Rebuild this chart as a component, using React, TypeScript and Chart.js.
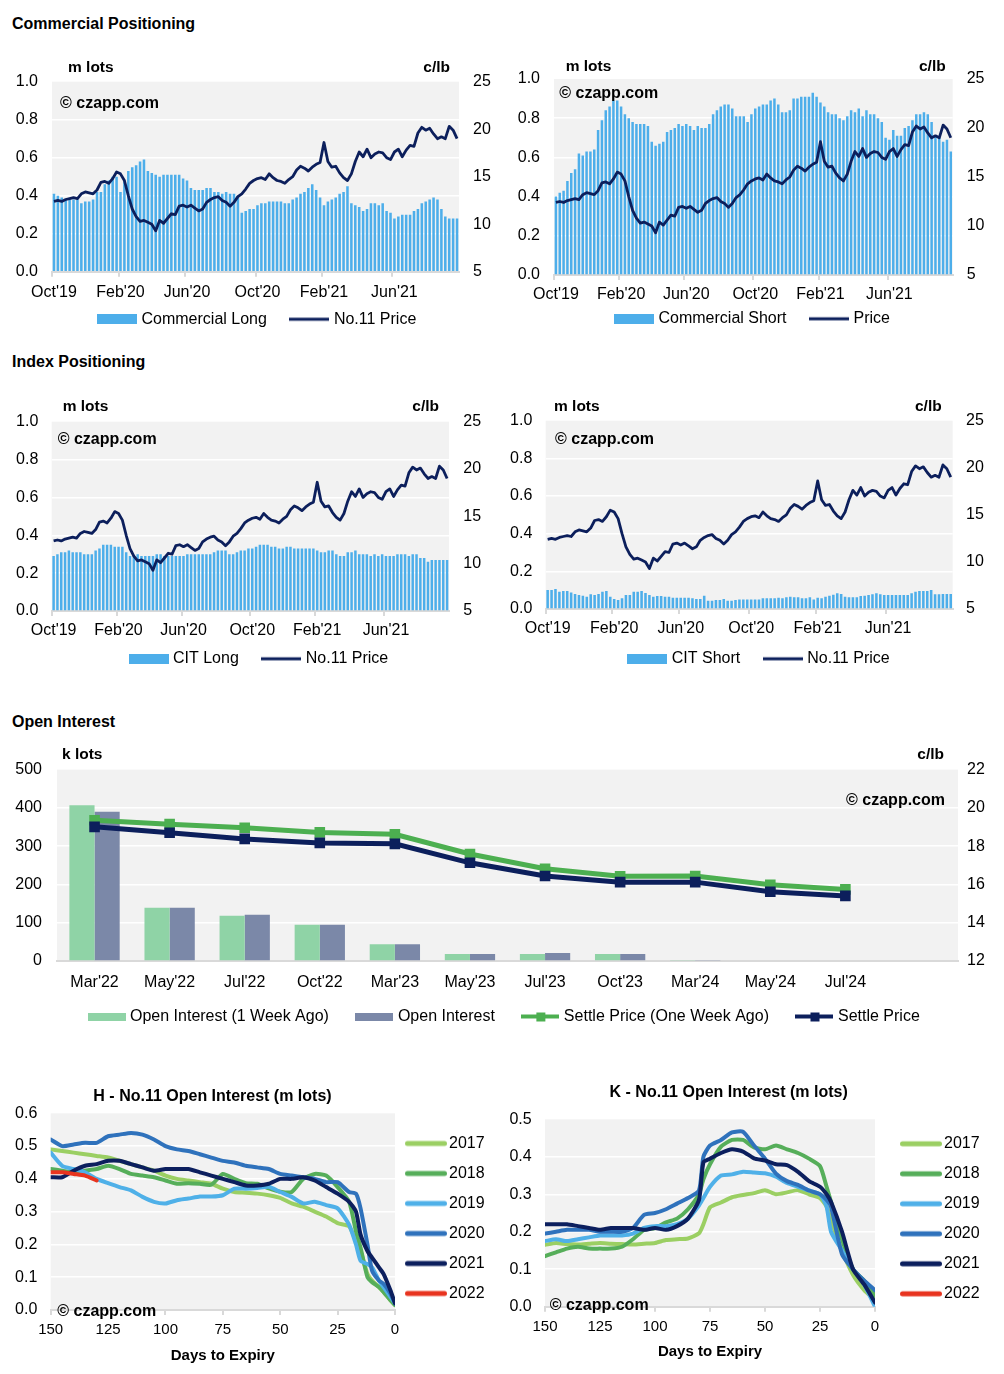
import React, { useEffect, useRef } from 'react';
import { Chart, registerables } from 'chart.js';

Chart.register(...registerables);

const FONT = '"Liberation Sans", Arial, Helvetica, sans-serif';
Chart.defaults.font.family = FONT;
Chart.defaults.color = '#000';

// ---------------- DATA ----------------
const WEEK_START = '2019-10-01';
const WEEK_COUNT = 104;
const TICK_MONTHS = [9, 1, 5]; // Oct, Feb, Jun
const MONTH_NAMES = ['Jan', 'Feb', 'Mar', 'Apr', 'May', 'Jun', 'Jul', 'Aug', 'Sep', 'Oct', 'Nov', 'Dec'];

// weekly No.11 price, c/lb
const NO11_PRICE = [
  12.4, 12.5, 12.4, 12.6, 12.7, 12.8, 12.7, 13.2, 13.4, 13.3,
  13.2, 13.6, 14.4, 14.5, 14.3, 14.8, 15.5, 15.3, 14.6, 13.0,
  11.6, 10.8, 10.3, 10.4, 10.2, 10.0, 9.3, 10.4, 10.1, 10.6,
  11.1, 11.0, 11.9, 12.0, 11.8, 12.0, 11.7, 11.4, 11.6, 12.3,
  12.6, 12.8, 12.9, 12.5, 12.3, 11.9, 12.3, 12.9, 13.2, 13.7,
  14.3, 14.6, 14.8, 14.9, 14.7, 15.3, 14.9, 14.6, 14.5, 14.3,
  14.7, 15.0, 15.7, 16.1, 15.9, 15.6, 16.0, 16.3, 16.5, 18.6,
  16.6, 16.0, 16.1, 15.4, 14.9, 14.6, 15.3, 16.6, 17.6, 17.1,
  17.9, 17.0, 17.4, 17.6, 17.5, 17.0, 16.8, 17.6, 17.9, 17.1,
  17.8, 18.3, 18.2, 19.6, 20.2, 19.9, 20.1, 19.5, 19.0, 19.2,
  19.0, 20.3, 19.9, 19.0,
];

// m lots
const COMMERCIAL_LONG = [
  0.41, 0.40, 0.39, 0.38, 0.38, 0.38, 0.38, 0.36, 0.37, 0.37,
  0.38, 0.42, 0.42, 0.46, 0.48, 0.50, 0.50, 0.42, 0.48, 0.53,
  0.55, 0.56, 0.58, 0.59, 0.53, 0.52, 0.51, 0.50, 0.51, 0.51,
  0.51, 0.51, 0.51, 0.49, 0.48, 0.44, 0.43, 0.43, 0.43, 0.44,
  0.44, 0.42, 0.42, 0.41, 0.42, 0.41, 0.41, 0.40, 0.31, 0.32,
  0.33, 0.33, 0.35, 0.36, 0.36, 0.37, 0.37, 0.37, 0.37, 0.36,
  0.36, 0.38, 0.39, 0.41, 0.42, 0.44, 0.46, 0.43, 0.39, 0.35,
  0.37, 0.38, 0.39, 0.41, 0.42, 0.45, 0.36, 0.35, 0.34, 0.32,
  0.33, 0.36, 0.36, 0.35, 0.36, 0.32, 0.31, 0.28, 0.29, 0.30,
  0.30, 0.30, 0.32, 0.33, 0.36, 0.37, 0.38, 0.39, 0.38, 0.33,
  0.29, 0.28, 0.28, 0.28,
];

const COMMERCIAL_SHORT = [
  0.40, 0.42, 0.43, 0.48, 0.52, 0.54, 0.62, 0.61, 0.63, 0.63,
  0.64, 0.74, 0.79, 0.84, 0.86, 0.89, 0.89, 0.86, 0.82, 0.80,
  0.78, 0.77, 0.77, 0.77, 0.76, 0.68, 0.66, 0.67, 0.68, 0.73,
  0.74, 0.75, 0.77, 0.76, 0.77, 0.76, 0.74, 0.76, 0.75, 0.75,
  0.77, 0.82, 0.84, 0.86, 0.87, 0.87, 0.85, 0.81, 0.81, 0.81,
  0.78, 0.82, 0.85, 0.86, 0.87, 0.87, 0.89, 0.90, 0.87, 0.83,
  0.83, 0.84, 0.90, 0.90, 0.91, 0.91, 0.91, 0.93, 0.91, 0.88,
  0.86, 0.83, 0.82, 0.82, 0.80, 0.79, 0.81, 0.84, 0.83, 0.85,
  0.81, 0.84, 0.82, 0.82, 0.80, 0.78, 0.70, 0.69, 0.74, 0.71,
  0.71, 0.75, 0.76, 0.79, 0.82, 0.82, 0.83, 0.82, 0.78, 0.71,
  0.70, 0.68, 0.69, 0.63,
];

const CIT_LONG = [
  0.29, 0.30, 0.31, 0.31, 0.32, 0.31, 0.31, 0.31, 0.30, 0.30,
  0.30, 0.32, 0.33, 0.35, 0.35, 0.35, 0.34, 0.34, 0.34, 0.31,
  0.29, 0.29, 0.30, 0.29, 0.29, 0.29, 0.29, 0.30, 0.30, 0.29,
  0.29, 0.29, 0.29, 0.29, 0.29, 0.30, 0.30, 0.30, 0.30, 0.30,
  0.30, 0.30, 0.31, 0.32, 0.32, 0.32, 0.30, 0.30, 0.31, 0.32,
  0.32, 0.33, 0.33, 0.34, 0.35, 0.35, 0.35, 0.34, 0.34, 0.33,
  0.33, 0.34, 0.34, 0.33, 0.33, 0.33, 0.33, 0.33, 0.33, 0.32,
  0.31, 0.31, 0.32, 0.32, 0.30, 0.29, 0.29, 0.31, 0.31, 0.32,
  0.30, 0.30, 0.30, 0.29, 0.30, 0.29, 0.30, 0.29, 0.29, 0.29,
  0.30, 0.30, 0.30, 0.29, 0.30, 0.30, 0.28, 0.28, 0.26, 0.27,
  0.27, 0.27, 0.27, 0.27,
];

const CIT_SHORT = [
  0.101, 0.101, 0.106, 0.092, 0.096, 0.096, 0.088, 0.080, 0.074, 0.071,
  0.065, 0.078, 0.074, 0.080, 0.092, 0.096, 0.065, 0.053, 0.048, 0.057,
  0.074, 0.074, 0.092, 0.092, 0.096, 0.085, 0.074, 0.065, 0.069, 0.069,
  0.065, 0.065, 0.060, 0.060, 0.060, 0.060, 0.060, 0.057, 0.053, 0.053,
  0.071, 0.044, 0.044, 0.048, 0.048, 0.053, 0.044, 0.044, 0.048, 0.051,
  0.051, 0.051, 0.051, 0.051, 0.051, 0.057, 0.057, 0.057, 0.057, 0.060,
  0.057, 0.062, 0.065, 0.062, 0.062, 0.057, 0.057, 0.062, 0.051, 0.060,
  0.057, 0.065, 0.071, 0.076, 0.083, 0.080, 0.065, 0.063, 0.062, 0.062,
  0.069, 0.071, 0.074, 0.078, 0.083, 0.078, 0.074, 0.074, 0.074, 0.074,
  0.074, 0.074, 0.074, 0.083, 0.092, 0.096, 0.096, 0.096, 0.101, 0.078,
  0.078, 0.080, 0.080, 0.080,
];

// Open interest by contract
const OI_CONTRACTS = ["Mar'22", "May'22", "Jul'22", "Oct'22", "Mar'23", "May'23", "Jul'23", "Oct'23", "Mar'24", "May'24", "Jul'24", ''];
const OI_WEEK_AGO = [407, 139, 118, 95, 44, 18, 18, 18, 2.5, 0, 0, null];
const OI_CURRENT = [390, 139, 121, 95, 44, 18, 21, 18, 2.5, 0, 0, null];
const SETTLE_WEEK_AGO = [19.35, 19.15, 18.96, 18.72, 18.62, 17.59, 16.82, 16.43, 16.44, 15.98, 15.74, null];
const SETTLE_CURRENT = [19.01, 18.70, 18.38, 18.17, 18.12, 17.13, 16.44, 16.12, 16.12, 15.62, 15.40, null];

// Open interest vs days to expiry
const EXPIRY_YEARS = ['2017', '2018', '2019', '2020', '2021', '2022'];

const H_DAYS = [150, 145, 140, 135, 130, 125, 120, 115, 110, 105, 100, 95, 90, 85, 80, 75, 70, 65, 60, 55, 50, 45, 40, 35, 30, 25, 20, 17, 15, 12, 10, 7, 5, 2, 0];
const H_2017 = [0.49, 0.485, 0.48, 0.475, 0.47, 0.465, 0.455, 0.445, 0.435, 0.425, 0.41, 0.40, 0.395, 0.39, 0.385, 0.37, 0.36, 0.358, 0.355, 0.35, 0.342, 0.325, 0.315, 0.30, 0.285, 0.265, 0.255, 0.21, 0.18, 0.11, 0.09, 0.07, 0.055, 0.03, 0.015];
const H_2018 = [0.43, 0.425, 0.42, 0.425, 0.43, 0.44, 0.43, 0.415, 0.41, 0.405, 0.395, 0.385, 0.387, 0.385, 0.382, 0.415, 0.40, 0.387, 0.385, 0.371, 0.361, 0.36, 0.40, 0.415, 0.41, 0.375, 0.33, 0.24, 0.19, 0.10, 0.085, 0.07, 0.055, 0.03, 0.015];
const H_2019 = [0.48, 0.44, 0.43, 0.42, 0.40, 0.387, 0.375, 0.365, 0.345, 0.33, 0.325, 0.335, 0.34, 0.346, 0.346, 0.35, 0.37, 0.37, 0.372, 0.376, 0.36, 0.345, 0.325, 0.33, 0.32, 0.31, 0.26, 0.20, 0.15, 0.14, 0.13, 0.09, 0.07, 0.04, 0.02];
const H_2020 = [0.52, 0.50, 0.505, 0.51, 0.51, 0.53, 0.535, 0.54, 0.535, 0.52, 0.50, 0.49, 0.485, 0.475, 0.465, 0.455, 0.45, 0.44, 0.435, 0.43, 0.415, 0.41, 0.405, 0.40, 0.39, 0.39, 0.36, 0.355, 0.31, 0.20, 0.12, 0.09, 0.08, 0.05, 0.02];
const H_2021 = [0.405, 0.405, 0.425, 0.44, 0.445, 0.455, 0.455, 0.445, 0.435, 0.425, 0.43, 0.43, 0.43, 0.42, 0.41, 0.40, 0.39, 0.38, 0.38, 0.385, 0.40, 0.40, 0.405, 0.395, 0.375, 0.355, 0.33, 0.30, 0.23, 0.18, 0.16, 0.13, 0.11, 0.06, 0.02];
const H_2022 = [0.42, 0.42, 0.415, 0.41, 0.395];

const K_DAYS = [150, 145, 140, 135, 130, 125, 120, 115, 110, 105, 100, 95, 90, 85, 80, 78, 75, 70, 65, 60, 55, 50, 45, 40, 35, 30, 25, 22, 20, 15, 10, 5, 0];
const K_2017 = [0.165, 0.17, 0.167, 0.166, 0.168, 0.17, 0.168, 0.167, 0.166, 0.168, 0.17, 0.178, 0.18, 0.182, 0.196, 0.22, 0.265, 0.278, 0.292, 0.298, 0.303, 0.311, 0.30, 0.305, 0.311, 0.30, 0.29, 0.267, 0.23, 0.15, 0.085, 0.045, 0.018];
const K_2018 = [0.135, 0.145, 0.155, 0.16, 0.155, 0.155, 0.155, 0.16, 0.18, 0.205, 0.21, 0.225, 0.235, 0.26, 0.30, 0.34, 0.38, 0.427, 0.445, 0.445, 0.425, 0.42, 0.43, 0.42, 0.41, 0.395, 0.375, 0.32, 0.28, 0.18, 0.10, 0.07, 0.03];
const K_2019 = [0.175, 0.18, 0.175, 0.18, 0.185, 0.19, 0.19, 0.19, 0.195, 0.21, 0.215, 0.215, 0.22, 0.235, 0.27, 0.29, 0.32, 0.35, 0.353, 0.36, 0.358, 0.356, 0.347, 0.33, 0.32, 0.31, 0.30, 0.267, 0.20, 0.15, 0.10, 0.06, 0.0];
const K_2020 = [0.195, 0.20, 0.205, 0.205, 0.205, 0.20, 0.20, 0.20, 0.21, 0.245, 0.25, 0.26, 0.275, 0.29, 0.31, 0.40, 0.43, 0.445, 0.465, 0.467, 0.43, 0.395, 0.355, 0.335, 0.325, 0.31, 0.30, 0.285, 0.267, 0.14, 0.10, 0.07, 0.044];
const K_2021 = [0.22, 0.22, 0.22, 0.215, 0.21, 0.205, 0.21, 0.21, 0.21, 0.205, 0.21, 0.205, 0.215, 0.235, 0.285, 0.385, 0.395, 0.41, 0.42, 0.414, 0.396, 0.39, 0.38, 0.378, 0.36, 0.335, 0.32, 0.30, 0.28, 0.20, 0.10, 0.06, 0.011];
const K_2022: number[] = [];

// ---------------- STYLE ----------------
const BAR_BLUE = '#4daeea';
const NAVY = '#0c1f5c';
const GREEN = '#4caf50';
const OI_GREEN = '#8fd3a6';
const OI_SLATE = '#7b88a8';
const AXIS_GRAY = '#d9d9d9';
const PLOT_BG = '#f2f2f2';
const YEAR_COLORS = ['#9bcf63', '#56ae5a', '#4fb0e8', '#2f72bc', '#0c1f5e', '#e8341f'];
const CLEAR = 'rgba(0,0,0,0)';
const TEXT_DY = 1.5; // canvas 'middle' baseline sits slightly above the visual glyph centre

// ---------------- helpers ----------------
const WEEK_DATES = (() => {
  const s = Date.parse(WEEK_START + 'T00:00:00Z');
  return Array.from({ length: WEEK_COUNT }, (_, i) => new Date(s + i * 7 * 86400000));
})();
const WEEK_LABELS = WEEK_DATES.map((d) => d.toISOString().slice(0, 10));

function weekTick(i: number): string {
  const d = WEEK_DATES[i];
  if (!d) return '';
  const e = new Date(d.getTime() + 6 * 86400000);
  let m = -1;
  let y = 0;
  if (d.getUTCDate() === 1) {
    m = d.getUTCMonth();
    y = d.getUTCFullYear();
  } else if (e.getUTCMonth() !== d.getUTCMonth()) {
    m = e.getUTCMonth();
    y = e.getUTCFullYear();
  }
  if (TICK_MONTHS.indexOf(m) < 0) return '';
  return MONTH_NAMES[m] + "'" + String(y).slice(2);
}

function rectIcon(color: string, w: number, h: number) {
  const c = document.createElement('canvas');
  c.width = w;
  c.height = h;
  const x = c.getContext('2d')!;
  x.fillStyle = color;
  x.fillRect(0, 0, w, h);
  return c;
}

function lineIcon(color: string, w: number, lw: number, round = false, marker = 0) {
  let h = Math.ceil(Math.max(lw, marker)) + 2;
  if (h % 2) h += 1;
  const c = document.createElement('canvas');
  c.width = w;
  c.height = h;
  const x = c.getContext('2d')!;
  const cy = h / 2;
  x.strokeStyle = color;
  x.lineWidth = lw;
  x.lineCap = round ? 'round' : 'butt';
  const inset = round ? lw / 2 : 0;
  x.beginPath();
  x.moveTo(inset, cy);
  x.lineTo(w - inset, cy);
  x.stroke();
  if (marker) {
    x.fillStyle = color;
    x.fillRect(Math.round(w / 2 - marker / 2), Math.round(cy - marker / 2), marker, marker);
  }
  return c;
}

const plotBgPlugin = {
  id: 'plotBg',
  beforeDraw(chart: any) {
    const a = chart.chartArea;
    if (!a) return;
    const ctx = chart.ctx;
    ctx.save();
    ctx.fillStyle = PLOT_BG;
    ctx.fillRect(a.left, a.top, a.right - a.left, a.bottom - a.top);
    ctx.restore();
  },
};

// moves the laid-out legend so that its first item starts at (x, centre y)
function legendPlacer(firstX: number, firstCY: number) {
  return {
    id: 'legendPlacer',
    afterLayout(chart: any) {
      const lg = chart.legend;
      if (!lg || !lg.options) return;
      const pad = lg.options.labels.padding;
      const fs = lg.options.labels.font.size;
      const horizontal = lg.isHorizontal();
      const curX = horizontal
        ? (lg.left + pad + lg.right - (lg.lineWidths ? lg.lineWidths[0] : 0)) / 2
        : lg.left + pad;
      const curY = lg.top + pad + fs / 2;
      const dx = firstX - curX;
      const dy = firstCY + TEXT_DY - curY;
      lg.left += dx;
      lg.right += dx;
      lg.top += dy;
      lg.bottom += dy;
      // enlarge the (clipping) box so every item stays visible
      if (horizontal) lg.bottom = Math.max(lg.bottom, lg.top + 2 * pad + fs + 10);
      else lg.right = Math.max(lg.right, lg.left + 160);
    },
  };
}

function legendLabels(icons: any[], fs: number, boxW: number, pad: number) {
  return {
    usePointStyle: true,
    pointStyleWidth: boxW,
    padding: pad,
    color: '#000',
    font: { family: FONT, size: fs },
    generateLabels: (chart: any) =>
      (Chart.defaults.plugins.legend.labels.generateLabels as any)(chart).map((it: any) => ({
        ...it,
        pointStyle: icons[it.datasetIndex],
        rotation: 0,
      })),
    sort: (a: any, b: any) => a.datasetIndex - b.datasetIndex,
  };
}

const interiorWhite = (lo: number, hi: number) => (c: any) =>
  c.tick && c.tick.value > lo + 1e-9 && c.tick.value < hi - 1e-9 ? '#ffffff' : CLEAR;

// ---------------- layouts ----------------
const GEO_COM_LONG = { left: 0, top: 55, W: 500, H: 285, plotL: 52, plotR: 459, plotT: 26.7, plotB: 216.7, yPad: 14, y2Pad: 14, xGap: 19, legendX: 100.5, legendY: 262.7 };
const GEO_COM_SHORT = { left: 500, top: 55, W: 504, H: 285, plotL: 54, plotR: 452.7, plotT: 24, plotB: 220, yPad: 14, y2Pad: 14, xGap: 18.3, legendX: 117.5, legendY: 262.3 };
const GEO_CIT_LONG = { left: 0, top: 395, W: 500, H: 285, plotL: 51.7, plotR: 449, plotT: 26.7, plotB: 216, yPad: 13.4, y2Pad: 14.3, xGap: 18, legendX: 132, legendY: 262.3 };
const GEO_CIT_SHORT = { left: 500, top: 395, W: 504, H: 285, plotL: 45.7, plotR: 452.7, plotT: 25.7, plotB: 214, yPad: 13.4, y2Pad: 13.3, xGap: 18.3, legendX: 130.8, legendY: 262.3 };
const GEO_OI = { left: 0, top: 745, W: 1004, H: 290, plotL: 57, plotR: 958, plotT: 21, plotB: 216, yPad: 15, y2Pad: 9, xGap: 20, legendX: 91, legendY: 270 };
const GEO_H = { left: 0, top: 1080, W: 500, H: 294, plotL: 50.7, plotR: 395, plotT: 33.3, plotB: 230, yPad: 13.4, xGap: 18.3, titleY: 275, legendX: 411, legendY: 62 };
const GEO_K = { left: 500, top: 1080, W: 504, H: 294, plotL: 45, plotR: 375, plotT: 39.3, plotB: 226.7, yPad: 13.3, xGap: 18.3, titleY: 270.7, legendX: 406, legendY: 62.3 };

const X_AXIS_H = 34;
const BOTTOM_LEGEND_H = 20;

// ---------------- configs ----------------
function weeklyConfig(g: any, barLabel: string, bars: number[], lineLabel: string) {
  const fs = 16;
  const boxW = 33;
  const pad = 26;
  const padB = g.H - g.plotB - X_AXIS_H - BOTTOM_LEGEND_H;
  const tickFont = { family: FONT, size: 16 };
  const icons = [rectIcon(BAR_BLUE, 40, 10), lineIcon(NAVY, 40, 3)];
  return {
    type: 'bar',
    data: {
      labels: WEEK_LABELS,
      datasets: [
        { type: 'bar', label: barLabel, data: bars, backgroundColor: BAR_BLUE, yAxisID: 'y', barPercentage: 0.65, categoryPercentage: 1, order: 2 },
        { type: 'line', label: lineLabel, data: NO11_PRICE, borderColor: NAVY, backgroundColor: NAVY, borderWidth: 2.8, pointRadius: 0, yAxisID: 'y2', order: 1, tension: 0, borderJoinStyle: 'round' },
      ],
    },
    options: {
      responsive: false,
      animation: false,
      devicePixelRatio: 1,
      events: [],
      layout: { padding: { left: 0, right: 0, top: g.plotT, bottom: padB } },
      plugins: {
        legend: { position: 'bottom', align: 'center', maxHeight: BOTTOM_LEGEND_H, labels: legendLabels(icons, fs, boxW, pad) },
        tooltip: { enabled: false },
      },
      scales: {
        x: {
          type: 'category',
          offset: true,
          grid: { offset: true, display: true, drawOnChartArea: false, drawTicks: true, tickLength: 5, lineWidth: 2, color: (c: any) => (c.tick && c.tick.label ? AXIS_GRAY : CLEAR) },
          border: { display: true, color: AXIS_GRAY, width: 2 },
          ticks: { autoSkip: false, maxRotation: 0, minRotation: 0, padding: g.xGap + TEXT_DY - 5 - fs * 0.6, font: tickFont, color: '#000', callback: (_v: any, i: number) => weekTick(i) },
          afterFit: (s: any) => { s.height = X_AXIS_H; },
        },
        y: {
          position: 'left',
          min: 0,
          max: 1,
          ticks: { stepSize: 0.2, padding: g.yPad, font: tickFont, color: '#000', callback: (v: any) => Number(v).toFixed(1) },
          grid: { drawTicks: false, lineWidth: 1.5, color: interiorWhite(0, 1) },
          border: { display: false },
          afterFit: (s: any) => { s.width = g.plotL; },
        },
        y2: {
          position: 'right',
          min: 5,
          max: 25,
          ticks: { stepSize: 5, padding: g.y2Pad, font: tickFont, color: '#000' },
          grid: { display: false, drawTicks: false },
          border: { display: false },
          afterFit: (s: any) => { s.width = g.W - g.plotR; },
        },
      },
    },
    plugins: [plotBgPlugin, legendPlacer(g.legendX, g.legendY)],
  };
}

function oiConfig(g: any) {
  const fs = 16;
  const boxW = 31;
  const pad = 30;
  const labels = ['Open Interest (1 Week Ago)', 'Open Interest', 'Settle Price (One Week Ago)', 'Settle Price'];
  const padB = g.H - g.plotB - X_AXIS_H - BOTTOM_LEGEND_H;
  const tickFont = { family: FONT, size: 16 };
  const icons = [rectIcon(OI_GREEN, 38, 8), rectIcon(OI_SLATE, 38, 8), lineIcon(GREEN, 38, 4, false, 9), lineIcon(NAVY, 38, 4, false, 9)];
  return {
    type: 'bar',
    data: {
      labels: OI_CONTRACTS,
      datasets: [
        { type: 'bar', label: labels[0], data: OI_WEEK_AGO, backgroundColor: OI_GREEN, yAxisID: 'y', barPercentage: 1, categoryPercentage: 0.67, order: 2 },
        { type: 'bar', label: labels[1], data: OI_CURRENT, backgroundColor: OI_SLATE, yAxisID: 'y', barPercentage: 1, categoryPercentage: 0.67, order: 2 },
        { type: 'line', label: labels[2], data: SETTLE_WEEK_AGO, borderColor: GREEN, backgroundColor: GREEN, borderWidth: 5, pointStyle: 'rect', pointRadius: 7.5, pointBorderWidth: 0, pointBackgroundColor: GREEN, yAxisID: 'y2', order: 1, spanGaps: false },
        { type: 'line', label: labels[3], data: SETTLE_CURRENT, borderColor: NAVY, backgroundColor: NAVY, borderWidth: 5, pointStyle: 'rect', pointRadius: 7.5, pointBorderWidth: 0, pointBackgroundColor: NAVY, yAxisID: 'y2', order: 0, spanGaps: false },
      ],
    },
    options: {
      responsive: false,
      animation: false,
      devicePixelRatio: 1,
      events: [],
      layout: { padding: { left: 0, right: 0, top: g.plotT, bottom: padB } },
      plugins: {
        legend: { position: 'bottom', align: 'center', maxHeight: BOTTOM_LEGEND_H, labels: legendLabels(icons, fs, boxW, pad) },
        tooltip: { enabled: false },
      },
      scales: {
        x: {
          type: 'category',
          offset: true,
          grid: { display: false, drawTicks: false },
          border: { display: true, color: AXIS_GRAY, width: 2 },
          ticks: { autoSkip: false, maxRotation: 0, minRotation: 0, padding: g.xGap + TEXT_DY - fs * 0.6, font: tickFont, color: '#000' },
          afterFit: (s: any) => { s.height = X_AXIS_H; },
        },
        y: {
          position: 'left',
          min: 0,
          max: 500,
          ticks: { stepSize: 100, padding: g.yPad, font: tickFont, color: '#000' },
          grid: { drawTicks: false, lineWidth: 1.5, color: interiorWhite(0, 500) },
          border: { display: false },
          afterFit: (s: any) => { s.width = g.plotL; },
        },
        y2: {
          position: 'right',
          min: 12,
          max: 22,
          ticks: { stepSize: 2, padding: g.y2Pad, font: tickFont, color: '#000' },
          grid: { display: false, drawTicks: false },
          border: { display: false },
          afterFit: (s: any) => { s.width = g.W - g.plotR; },
        },
      },
    },
    plugins: [plotBgPlugin, legendPlacer(g.legendX, g.legendY)],
  };
}

function expiryConfig(g: any, days: number[], series: number[][], yMax: number) {
  const fs = 16;
  const boxW = 30;
  const pad = 14;
  const legendW = 60;
  const padR = g.W - g.plotR - legendW;
  const padB = g.H - (g.titleY + 9 + 1);
  const xH = g.H - padB - g.plotB;
  const icons = YEAR_COLORS.map((c) => lineIcon(c, 42, 5, true));
  const tickFont = { family: FONT, size: 16 };
  return {
    type: 'line',
    data: {
      datasets: EXPIRY_YEARS.map((yr, i) => ({
        label: yr,
        data: series[i].map((v, j) => ({ x: days[j], y: v })),
        borderColor: YEAR_COLORS[i],
        backgroundColor: YEAR_COLORS[i],
        borderWidth: 4,
        pointRadius: 0,
        tension: 0.2,
        borderJoinStyle: 'round',
        borderCapStyle: 'round',
        order: EXPIRY_YEARS.length - 1 - i,
      })),
    },
    options: {
      responsive: false,
      animation: false,
      devicePixelRatio: 1,
      events: [],
      layout: { padding: { left: 0, right: padR, top: g.plotT, bottom: padB } },
      plugins: {
        legend: {
          position: 'right',
          align: 'start',
          maxWidth: legendW,
          labels: legendLabels(icons, fs, boxW, pad),
        },
        tooltip: { enabled: false },
      },
      scales: {
        x: {
          type: 'linear',
          reverse: true,
          min: 0,
          max: 150,
          ticks: { stepSize: 25, padding: g.xGap + TEXT_DY - 5 - 15 * 0.6, font: { family: FONT, size: 15 }, color: '#000' },
          grid: { display: true, drawOnChartArea: false, drawTicks: true, tickLength: 5, lineWidth: 2, color: AXIS_GRAY },
          border: { display: true, color: AXIS_GRAY, width: 2 },
          title: { display: true, text: 'Days to Expiry', color: '#000', font: { family: FONT, size: 15, weight: 'bold', lineHeight: 1.2 }, padding: { top: 0, bottom: 0 } },
          afterFit: (s: any) => { s.height = xH; },
        },
        y: {
          position: 'left',
          min: 0,
          max: yMax,
          ticks: { stepSize: 0.1, padding: g.yPad, font: tickFont, color: '#000', callback: (v: any) => Number(v).toFixed(1) },
          grid: { drawTicks: false, lineWidth: 1.5, color: interiorWhite(0, yMax) },
          border: { display: false },
          afterFit: (s: any) => { s.width = g.plotL; },
        },
      },
    },
    plugins: [plotBgPlugin, legendPlacer(g.legendX, g.legendY)],
  };
}

// ---------------- components ----------------
function ChartCanvas({ g, make }: { g: any; make: () => any }) {
  const ref = useRef<HTMLCanvasElement | null>(null);
  useEffect(() => {
    if (!ref.current) return;
    const chart = new Chart(ref.current, make());
    return () => chart.destroy();
  }, []);
  return (
    <canvas
      ref={ref}
      width={g.W}
      height={g.H}
      style={{ position: 'absolute', left: g.left, top: g.top, width: g.W, height: g.H }}
    />
  );
}

function Txt({ x, y, text, size = 16, bold = false, align = 'left' }: { x: number; y: number; text: string; size?: number; bold?: boolean; align?: string }) {
  const tx = align === 'left' ? '0' : align === 'right' ? '-100%' : '-50%';
  return (
    <div
      style={{
        position: 'absolute',
        left: x,
        top: y,
        transform: `translate(${tx}, -50%)`,
        fontFamily: FONT,
        fontSize: size,
        fontWeight: bold ? 700 : 400,
        lineHeight: 1,
        whiteSpace: 'nowrap',
        color: '#000',
      }}
    >
      {text}
    </div>
  );
}

export default function App() {
  return (
    <div style={{ position: 'absolute', left: 0, top: 0, width: 1004, height: 1374, background: '#ffffff', overflow: 'hidden' }}>
      <ChartCanvas g={GEO_COM_LONG} make={() => weeklyConfig(GEO_COM_LONG, 'Commercial Long', COMMERCIAL_LONG, 'No.11 Price')} />
      <ChartCanvas g={GEO_COM_SHORT} make={() => weeklyConfig(GEO_COM_SHORT, 'Commercial Short', COMMERCIAL_SHORT, 'Price')} />
      <ChartCanvas g={GEO_CIT_LONG} make={() => weeklyConfig(GEO_CIT_LONG, 'CIT Long', CIT_LONG, 'No.11 Price')} />
      <ChartCanvas g={GEO_CIT_SHORT} make={() => weeklyConfig(GEO_CIT_SHORT, 'CIT Short', CIT_SHORT, 'No.11 Price')} />
      <ChartCanvas g={GEO_OI} make={() => oiConfig(GEO_OI)} />
      <ChartCanvas g={GEO_H} make={() => expiryConfig(GEO_H, H_DAYS, [H_2017, H_2018, H_2019, H_2020, H_2021, H_2022], 0.6)} />
      <ChartCanvas g={GEO_K} make={() => expiryConfig(GEO_K, K_DAYS, [K_2017, K_2018, K_2019, K_2020, K_2021, K_2022], 0.5)} />

      <Txt x={12} y={24} text="Commercial Positioning" size={16} bold />
      <Txt x={12} y={362} text="Index Positioning" size={16} bold />
      <Txt x={12} y={722} text="Open Interest" size={16} bold />

      <Txt x={68} y={67.3} text="m lots" size={15.5} bold />
      <Txt x={450} y={67.3} text="c/lb" size={15.5} bold align="right" />
      <Txt x={565.7} y={65.7} text="m lots" size={15.5} bold />
      <Txt x={945.7} y={65.7} text="c/lb" size={15.5} bold align="right" />
      <Txt x={62.7} y={405.7} text="m lots" size={15.5} bold />
      <Txt x={439} y={405.7} text="c/lb" size={15.5} bold align="right" />
      <Txt x={554} y={405.7} text="m lots" size={15.5} bold />
      <Txt x={941.7} y={405.7} text="c/lb" size={15.5} bold align="right" />
      <Txt x={62} y={754} text="k lots" size={15.5} bold />
      <Txt x={944} y={754} text="c/lb" size={15.5} bold align="right" />

      <Txt x={60} y={102.7} text="© czapp.com" size={16} bold />
      <Txt x={559.3} y={92.7} text="© czapp.com" size={16} bold />
      <Txt x={57.7} y={439} text="© czapp.com" size={16} bold />
      <Txt x={555} y={439} text="© czapp.com" size={16} bold />
      <Txt x={945} y={800} text="© czapp.com" size={16} bold align="right" />
      <Txt x={57.3} y={1310.7} text="© czapp.com" size={16} bold />
      <Txt x={549.7} y={1305} text="© czapp.com" size={16} bold />

      <Txt x={212.5} y={1095.7} text="H - No.11 Open Interest (m lots)" size={16} bold align="center" />
      <Txt x={728.7} y={1091.7} text="K - No.11 Open Interest (m lots)" size={16} bold align="center" />
    </div>
  );
}
